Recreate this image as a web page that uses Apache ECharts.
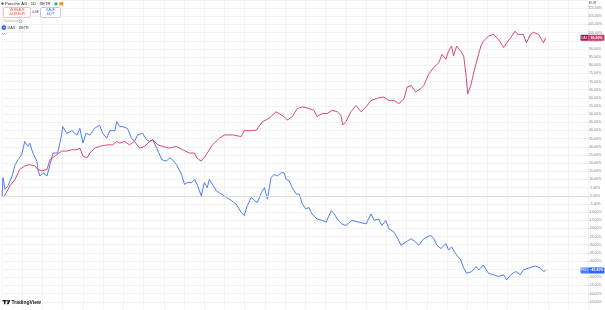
<!DOCTYPE html>
<html><head><meta charset="utf-8">
<script src="https://cdn.jsdelivr.net/npm/echarts@6/dist/echarts.min.js"></script>
<style>html,body{margin:0;padding:0;background:#fff}#c{width:605px;height:310px}</style>
</head><body><div id="c"></div><script>
// Trading days since 2022-09-29 (approx.), and % change since start
const daxDays = [0,4,16,26,35,45,55,65,71,79,89,95,105,118,128,138,148,154,160,168,174,183,193,207,219,227,233,243,252,262,272,282,292,298,308,317,331,345,357,371,381,385,394,404,416,430,440,456,473,479,493,503,515,528,542,548,558,564,574,584,594,607,617,623,633,643,653,663,670,674,680,690,700,710,720,730,740,745,755,765,775,785,795,801,809,818,828,834,844,854,864,870,878,883,889,893,899,907,913,917,921,927,933,939,947,952,962,972,982,992,998,1006,1014,1021,1031,1037,1045,1051,1061,1071,1075];
const daxValues = [0,-0.5,6.2,10.1,16.1,18.3,19.1,18.3,16.1,15.3,16.1,22.2,24.4,27.4,27.4,28.2,28.2,29.2,24.4,23.2,26.2,29.2,30.3,31.2,31.2,33.3,32.3,33.3,31.2,33.3,29.2,30.3,33.3,34.3,31.2,30.3,29.2,30.3,28.2,26.2,26.2,23.2,21.2,25.2,31.2,35.3,37.3,37.3,36.3,39.9,39.9,40.3,45.4,47.4,51.5,50.4,48.5,46.4,48.5,53.5,54.5,53.5,52.4,48.5,50.4,50.4,52.4,51.5,49.4,43.4,45.4,51.5,55.4,51.5,54.5,58.5,59.5,60.1,60.5,58.5,58.5,56.5,59.5,66.6,67.6,63.7,65.6,67.6,74.6,78.7,81.7,86.7,83.7,88.7,91.8,85.7,91.8,88.7,85.7,75.7,62.5,67.6,75.7,82.7,91.8,94.8,97.8,98.9,95.8,90.8,93.8,96.9,100.8,98.9,98.9,93.8,98.9,100.2,98.9,93.8,96.8];
const p911Days = [0,2,6,12,20,26,32,39,45,51,55,61,69,71,75,81,89,95,101,110,118,120,128,138,148,154,160,166,174,183,193,199,207,213,223,227,233,239,248,256,262,268,278,286,292,298,306,316,325,331,337,345,355,361,367,375,381,387,394,400,406,410,416,424,434,444,454,463,473,479,485,493,499,505,513,519,525,532,538,544,552,558,562,568,574,582,588,594,601,607,613,623,633,641,651,657,663,672,680,692,706,720,730,736,745,751,759,765,775,781,789,799,809,818,824,834,848,854,860,868,878,883,889,897,907,913,919,929,937,943,952,962,972,982,992,998,1006,1016,1025,1031,1041,1055,1065,1071,1075];
const p911Values = [0,11.1,4.0,6.2,12.1,19.1,22.2,25.2,33.3,30.3,32.3,26.2,21.2,16.1,12.1,14.1,12.1,19.1,26.2,26.2,37.3,42.4,38.3,39.9,37.3,41.3,32.3,38.3,37.3,41.3,43.3,38.3,35.3,39.9,39.9,45.4,42.4,42.4,41.3,35.3,33.3,37.3,38.3,34.3,33.3,34.3,29.2,22.2,21.2,23.2,22.2,19.1,13.1,7.0,8.1,8.1,10.0,6.1,0,8.1,5.0,10.0,7.0,3.0,1.0,-1.0,-3.0,-5.1,-10.1,-12.1,-6.1,-1.0,-3.0,-4.1,2.0,5.0,-2.1,11.1,13.1,12.1,14.1,14.1,10.0,9.1,5.0,1.0,1.0,-5.1,-8.1,-7.1,-11.1,-14.2,-15.1,-16.2,-9.1,-11.1,-14.2,-17.2,-18.2,-15.1,-16.2,-17.2,-11.1,-15.1,-14.3,-18.2,-15.1,-20.2,-22.2,-25.2,-30.3,-28.3,-26.3,-28.3,-30.3,-26.3,-24.2,-26.3,-30.3,-32.3,-29.3,-33.3,-31.3,-35.4,-39.3,-44.4,-47.5,-46.4,-43.4,-45.4,-42.4,-47.5,-48.4,-49.5,-48.4,-51.5,-48.4,-46.4,-48.4,-45.4,-44.4,-43.0,-44.4,-46.4,-45.8];
const yMin = -70, yMax = 120, yStep = 5;
const xMin = 0, xMax = 1160, xStep = 40;
const daxColor = '#d6336c', p911Color = '#3b6ef8';
const FONT = 'Liberation Sans';

const chart = echarts.init(document.getElementById('c'), null, {renderer: 'canvas'});
const pair = (d, v) => d.map((x, i) => [x, v[i]]);
const fmt = v => v.toFixed(2) + '%';

chart.setOption({
  animation: false,
  backgroundColor: '#ffffff',
  grid: {left: 2, right: 15, top: 0, height: 314, containLabel: false},
  xAxis: {
    type: 'value', min: xMin, max: xMax, interval: xStep,
    axisLine: {show: false}, axisTick: {show: false}, axisLabel: {show: false},
    splitLine: {show: true, lineStyle: {color: '#f4f4f4', width: 1}}
  },
  yAxis: {
    type: 'value', position: 'right', min: yMin, max: yMax, interval: yStep,
    axisLine: {show: false}, axisTick: {show: false},
    axisLabel: {show: true, showMinLabel: false, showMaxLabel: false, margin: 6.5, align: 'center',
      fontSize: 3.5, fontFamily: FONT, color: '#808080', formatter: fmt},
    splitLine: {show: true, lineStyle: {color: '#f2f2f2', width: 1}}
  },
  series: [
    {name: 'P911', type: 'line', data: pair(p911Days, p911Values), showSymbol: false, symbol: 'none',
      lineStyle: {color: p911Color, width: 0.9}, z: 3,
      markLine: {silent: true, symbol: ['none', 'none'], label: {show: false},
        lineStyle: {color: '#d9d9d9', type: 'solid', width: 1}, data: [{yAxis: 0}]}},
    {name: 'DAX', type: 'line', data: pair(daxDays, daxValues), showSymbol: false, symbol: 'none',
      lineStyle: {color: daxColor, width: 0.9}, z: 4}
  ]
});

function tag(yVal, name, text, cLeft, cRight) {
  const py = chart.convertToPixel({gridIndex: 0}, [xMin, yVal])[1];
  const h = 6, x0 = 580.5, xs = 588.5, x1 = 604.5;
  return [
    {type: 'rect', z: 100, shape: {x: x0, y: py - h/2, width: xs - x0, height: h, r: [1,0,0,1]}, style: {fill: cLeft}},
    {type: 'rect', z: 100, shape: {x: xs, y: py - h/2, width: x1 - xs, height: h, r: [0,1,1,0]}, style: {fill: cRight}},
    {type: 'text', z: 101, style: {x: (x0 + xs)/2, y: py, text: name, fill: '#fff', fontSize: 3, fontFamily: FONT, align: 'center', verticalAlign: 'middle'}},
    {type: 'text', z: 101, style: {x: (xs + x1)/2, y: py, text: text, fill: '#fff', fontSize: 3.5, fontFamily: FONT, fontWeight: 'bold', align: 'center', verticalAlign: 'middle'}}
  ];
}
const daxLast = daxValues[daxValues.length - 1];
const p911Last = p911Values[p911Values.length - 1];

const g = [];
// header
g.push({type: 'circle', shape: {cx: 2.5, cy: 3.6, r: 1.2}, style: {fill: '#555'}});
g.push({type: 'text', style: {x: 5, y: 3.8, text: 'Porsche AG · 1D · XETR', fill: '#222', fontSize: 4.1, fontFamily: FONT, verticalAlign: 'middle'}});
g.push({type: 'circle', shape: {cx: 56, cy: 3.8, r: 1.6}, style: {fill: '#22ab94'}});
g.push({type: 'rect', shape: {x: 59.5, y: 2, width: 3.6, height: 3.6, r: 0.6}, style: {fill: '#ff9800'}});
g.push({type: 'rect', shape: {x: 3.5, y: 7.5, width: 27, height: 10, r: 1.5}, style: {fill: '#fff', stroke: '#f2a3a3', lineWidth: 0.7}});
g.push({type: 'text', style: {x: 17, y: 10.5, text: 'VERKAUF', fill: '#e53935', fontSize: 3.2, fontFamily: FONT, align: 'center', verticalAlign: 'middle'}});
g.push({type: 'text', style: {x: 17, y: 14.5, text: '44,69 EUR', fill: '#e53935', fontSize: 3.2, fontFamily: FONT, align: 'center', verticalAlign: 'middle'}});
g.push({type: 'text', style: {x: 35.5, y: 12.5, text: '0,08', fill: '#333', fontSize: 3.2, fontFamily: FONT, align: 'center', verticalAlign: 'middle'}});
g.push({type: 'rect', shape: {x: 40.5, y: 7.5, width: 20, height: 10, r: 1.5}, style: {fill: '#fff', stroke: '#9fb6f7', lineWidth: 0.7}});
g.push({type: 'text', style: {x: 50.5, y: 10.5, text: 'KAUF', fill: '#2962ff', fontSize: 3.2, fontFamily: FONT, align: 'center', verticalAlign: 'middle'}});
g.push({type: 'text', style: {x: 50.5, y: 14.5, text: '44,77', fill: '#2962ff', fontSize: 3.2, fontFamily: FONT, align: 'center', verticalAlign: 'middle'}});
g.push({type: 'text', style: {x: 3.5, y: 21.3, text: 'Volumen', fill: '#b0b0b0', fontSize: 3.8, fontFamily: FONT, verticalAlign: 'middle'}});
g.push({type: 'circle', shape: {cx: 20.5, cy: 21.3, r: 1.5}, style: {fill: 'none', stroke: '#777', lineWidth: 0.6}});
g.push({type: 'circle', shape: {cx: 3.8, cy: 27.6, r: 2.3}, style: {fill: '#2962ff'}});
g.push({type: 'text', style: {x: 3.8, y: 27.7, text: 'D', fill: '#fff', fontSize: 2.5, fontFamily: FONT, fontWeight: 'bold', align: 'center', verticalAlign: 'middle'}});
g.push({type: 'text', style: {x: 7.5, y: 27.7, text: 'DAX · XETR', fill: '#333', fontSize: 3.8, fontFamily: FONT, verticalAlign: 'middle'}});
g.push({type: 'polyline', shape: {points: [[2.3, 33.3], [3.5, 34.5], [4.7, 33.3]]}, style: {stroke: '#444', lineWidth: 0.6, fill: 'none'}});
// EUR at top of price scale
g.push({type: 'text', style: {x: 592.5, y: 3.5, text: 'EUR', fill: '#555', fontSize: 3.5, fontFamily: FONT, align: 'center', verticalAlign: 'middle'}, z: 50});
// TradingView logo
g.push({type: 'rect', shape: {x: 2.5, y: 300, width: 4, height: 1.4}, style: {fill: '#131722'}});
g.push({type: 'rect', shape: {x: 4.0, y: 300, width: 1.4, height: 4.2}, style: {fill: '#131722'}});
g.push({type: 'circle', shape: {cx: 7.4, cy: 300.7, r: 0.8}, style: {fill: '#131722'}});
g.push({type: 'polygon', shape: {points: [[8.6, 300], [10.4, 300], [8.6, 304.2], [6.8, 304.2]]}, style: {fill: '#131722'}});
g.push({type: 'text', style: {x: 11.5, y: 302.2, text: 'TradingView', fill: '#131722', fontSize: 5, fontFamily: FONT, fontWeight: 'bold', verticalAlign: 'middle'}});
// value tags on the price scale
g.push(...tag(daxLast, 'DAX', fmt(daxLast), '#b3124f', daxColor));
g.push(...tag(p911Last, 'P911', fmt(p911Last).replace('-', '−'), '#4a7aff', '#2962ff'));
chart.setOption({graphic: g});
</script></body></html>
